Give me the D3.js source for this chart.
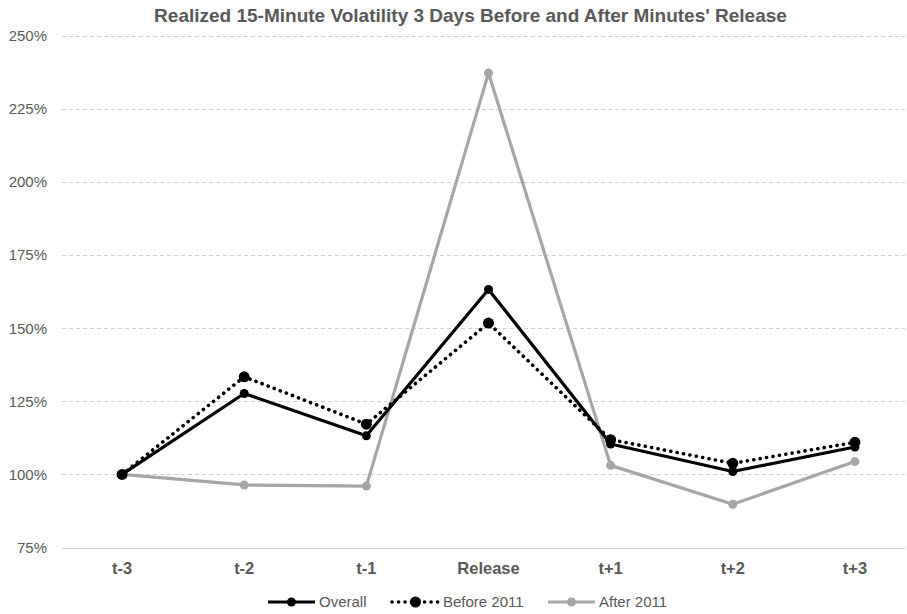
<!DOCTYPE html>
<html>
<head>
  <meta charset="utf-8">
  <title>Realized 15-Minute Volatility</title>
  <script src="https://cdn.jsdelivr.net/npm/d3@7"></script>
  <style>
    body { margin: 0; background: #fff; }
    text { font-family: "Liberation Sans", Arial, sans-serif; fill: #595959; }
  </style>
</head>
<body>
  <svg id="chart" width="907" height="614"></svg>

  <script>
    var categories = ["t-3", "t-2", "t-1", "Release", "t+1", "t+2", "t+3"];
    var overall = [100, 127.7, 113.2, 163.3, 110.4, 101, 109.4];
    var before2011 = [100, 133.4, 117.2, 151.8, 111.9, 103.8, 111];
    var after2011 = [100, 96.4, 96, 237.3, 103.1, 89.8, 104.4];
    var yTicks = [75, 100, 125, 150, 175, 200, 225, 250];

    var series = [
      { name: "Overall", values: overall, color: "#000000", width: 3.2, dash: null, r: 4.5 },
      { name: "Before 2011", values: before2011, color: "#000000", width: 3.6, dash: "0.1,6.4", r: 5.5 },
      { name: "After 2011", values: after2011, color: "#a6a6a6", width: 3.2, dash: null, r: 4.5 }
    ];

    var svg = d3.select("#chart");

    var x = d3.scaleBand()
      .domain(categories)
      .range([61, 916]);

    var y = d3.scaleLinear()
      .domain([75, 250])
      .range([547.5, 36]);

    // title
    svg.append("text")
      .attr("x", 470.5)
      .attr("y", 22)
      .attr("text-anchor", "middle")
      .style("font-size", "19px")
      .style("font-weight", "bold")
      .text("Realized 15-Minute Volatility 3 Days Before and After Minutes' Release");

    // gridlines + y labels
    var grid = svg.append("g").attr("class", "grid");
    grid.selectAll("line")
      .data(yTicks)
      .enter()
      .append("line")
      .attr("x1", 62)
      .attr("x2", 905)
      .attr("y1", d => Math.round(y(d)) + 0.5)
      .attr("y2", d => Math.round(y(d)) + 0.5)
      .attr("stroke", "#d0d0d0")
      .attr("stroke-width", 1)
      .attr("stroke-dasharray", d => d === 75 ? null : "4,3");

    grid.selectAll("text")
      .data(yTicks)
      .enter()
      .append("text")
      .attr("x", 47)
      .attr("y", d => y(d))
      .attr("dy", "0.35em")
      .attr("text-anchor", "end")
      .style("font-size", "15px")
      .text(d => d + "%");

    // x labels
    svg.append("g")
      .selectAll("text")
      .data(categories)
      .enter()
      .append("text")
      .attr("x", d => x(d) + x.bandwidth() / 2)
      .attr("y", 574)
      .attr("text-anchor", "middle")
      .style("font-size", "16.5px")
      .style("font-weight", "bold")
      .text(d => d);

    var line = d3.line()
      .x((d, i) => x(categories[i]) + x.bandwidth() / 2)
      .y(d => y(d));

    // draw gray first so black lines are on top, like the reference
    var order = [series[2], series[1], series[0]];

    var lines = svg.append("g").attr("class", "lines");
    order.forEach(function (s) {
      lines.append("path")
        .attr("d", line(s.values))
        .attr("fill", "none")
        .attr("stroke", s.color)
        .attr("stroke-width", s.width)
        .attr("stroke-linejoin", "round")
        .attr("stroke-linecap", s.dash ? "round" : "butt")
        .attr("stroke-dasharray", s.dash);

      lines.append("g")
        .selectAll("circle")
        .data(s.values)
        .enter()
        .append("circle")
        .attr("cx", (d, i) => x(categories[i]) + x.bandwidth() / 2)
        .attr("cy", d => y(d))
        .attr("r", s.r)
        .attr("fill", s.color);
    });

    // legend
    var legendX = [268, 392, 548];
    var legend = svg.append("g").attr("class", "legend")
      .selectAll("g")
      .data(series)
      .enter()
      .append("g")
      .attr("transform", (d, i) => "translate(" + legendX[i] + ",602)");

    legend.append("line")
      .attr("x1", 0)
      .attr("x2", 47)
      .attr("stroke", d => d.color)
      .attr("stroke-width", d => d.width)
      .attr("stroke-linecap", d => d.dash ? "round" : "butt")
      .attr("stroke-dasharray", d => d.dash);

    legend.append("circle")
      .attr("cx", 23.5)
      .attr("r", d => d.r)
      .attr("fill", d => d.color);

    legend.append("text")
      .attr("x", 51)
      .attr("dy", "0.35em")
      .style("font-size", "15px")
      .text(d => d.name);
  </script>
</body>
</html>
